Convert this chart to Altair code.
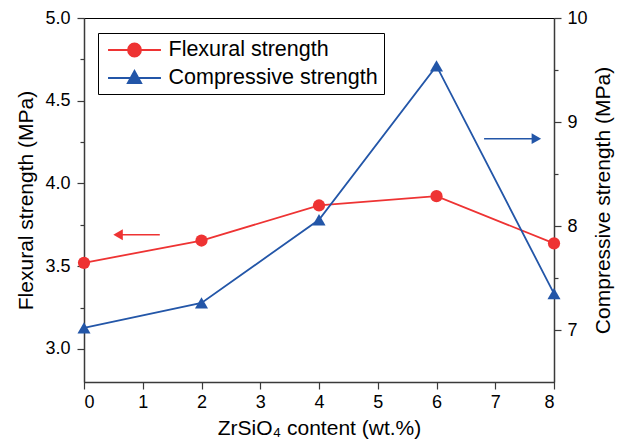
import altair as alt
import pandas as pd

# ---- data ----
zr_content = [0, 2, 4, 6, 8]
flexural = [3.52, 3.655, 3.867, 3.923, 3.638]
compressive = [7.02, 7.26, 8.06, 9.54, 7.35]
series_names = ["Flexural strength", "Compressive strength"]
series_colors = ["#EE3333", "#2356A8"]

# direction arrows (annotation, in data units)
red_arrow_x = [0.58, 1.29]
red_arrow_y = [3.69]
blue_arrow_x = [7.70, 6.81]
blue_arrow_y = [8.84]

x_ticks = [i * 0.5 for i in range(17)]
left_ticks = [3.0, 3.25, 3.5, 3.75, 4.0, 4.25, 4.5, 4.75, 5.0]
right_ticks = [7, 7.5, 8, 8.5, 9, 9.5, 10]

FONT = "Liberation Sans"
AX = "#3a3a3a"

df_f = pd.DataFrame({"x": zr_content, "y": flexural})
df_c = pd.DataFrame({"x": zr_content, "y": compressive})
df_ra = pd.DataFrame({"x": [red_arrow_x[0]], "x2": [red_arrow_x[1]], "y": red_arrow_y})
df_ba = pd.DataFrame({"x": [blue_arrow_x[0]], "x2": [blue_arrow_x[1]], "y": blue_arrow_y})
df_leg = pd.DataFrame({"series": series_names})

x_scale = alt.Scale(domain=[0, 8], nice=False, zero=False)
x_enc = alt.X(
    "x:Q",
    scale=x_scale,
    axis=alt.Axis(
        values=x_ticks,
        labelExpr="datum.value % 1 == 0 ? format(datum.value, 'd') : ''",
        tickSize=alt.ExprRef("datum.value % 1 != 0 ? 4 : 7"),
        labelPadding=4,
        titlePadding=6,
        labelOverlap=False,
    ),
    title="ZrSiO₄ content (wt.%)",
)

y_left_scale = alt.Scale(domain=[2.8, 5.0], nice=False, zero=False)
y_right_scale = alt.Scale(domain=[6.5, 10], nice=False, zero=False)

y_left = alt.Y(
    "y:Q",
    scale=y_left_scale,
    axis=alt.Axis(
        orient="left",
        values=left_ticks,
        labelExpr="(datum.value * 2) % 1 == 0 ? format(datum.value, '.1f') : ''",
        tickSize=alt.ExprRef("(datum.value * 2) % 1 != 0 ? 4 : 7"),
        labelPadding=7,
        titlePadding=8,
        labelOverlap=False,
    ),
    title="Flexural strength (MPa)",
)

y_right = alt.Y(
    "y:Q",
    scale=y_right_scale,
    axis=alt.Axis(
        orient="right",
        values=right_ticks,
        labelExpr="datum.value % 1 == 0 ? format(datum.value, 'd') : ''",
        tickSize=alt.ExprRef("datum.value % 1 != 0 ? 4 : 7"),
        labelPadding=6,
        titlePadding=5,
        titleAngle=270,
        titleBaseline="top",
        labelOverlap=False,
    ),
    title="Compressive strength (MPa)",
)

# flexural group
f_line = alt.Chart(df_f).mark_line(color=series_colors[0], strokeWidth=1.8).encode(x=x_enc, y=y_left)
f_pts = alt.Chart(df_f).mark_point(
    shape="circle", filled=True, color=series_colors[0], size=150, opacity=1
).encode(x=x_enc, y=y_left)
f_arrow_line = alt.Chart(df_ra).mark_rule(color=series_colors[0], strokeWidth=1.5).encode(
    x=alt.X("x:Q", scale=x_scale), x2="x2:Q", y=alt.Y("y:Q", scale=y_left_scale)
)
f_arrow_head = alt.Chart(df_ra).mark_point(
    shape="triangle-left", filled=True, color=series_colors[0], size=120, opacity=1
).encode(x=alt.X("x:Q", scale=x_scale), y=alt.Y("y:Q", scale=y_left_scale))

circle_path = "M-2.52,0L2.52,0M0.62,0A0.62,0.62,0,1,1,-0.62,0A0.62,0.62,0,1,1,0.62,0Z"
tri_path = "M-2.52,0L2.52,0M0,-0.68L0.64,0.48L-0.64,0.48Z"
leg = alt.Legend(
    title=None,
    orient="none",
    legendX=14,
    legendY=15,
    padding=5.5,
    symbolSize=441,
    symbolOffset=19.5,
    labelOffset=22.5,
    labelLimit=0,
    rowPadding=6,
    symbolStrokeWidth=1.8,
    symbolOpacity=1,
    labelFontSize=21.5,
    labelFont=FONT,
    labelColor="#000000",
    strokeColor="#000000",
    fillColor="#ffffff",
)
legend_layer = alt.Chart(df_leg).mark_point(filled=True, opacity=0).encode(
    fill=alt.Fill("series:N", scale=alt.Scale(domain=series_names, range=series_colors), legend=leg),
    stroke=alt.Stroke("series:N", scale=alt.Scale(domain=series_names, range=series_colors), legend=leg),
    shape=alt.Shape("series:N", scale=alt.Scale(domain=series_names, range=[circle_path, tri_path]), legend=leg),
)

left_group = alt.layer(f_line, f_pts, f_arrow_line, f_arrow_head, legend_layer)

# compressive group
c_line = alt.Chart(df_c).mark_line(color=series_colors[1], strokeWidth=1.8).encode(x=x_enc, y=y_right)
c_pts = alt.Chart(df_c).mark_point(
    shape="triangle-up", filled=True, color=series_colors[1], size=170, opacity=1
).encode(x=x_enc, y=y_right)
c_arrow_line = alt.Chart(df_ba).mark_rule(color=series_colors[1], strokeWidth=1.5).encode(
    x=alt.X("x:Q", scale=x_scale), x2="x2:Q", y=alt.Y("y:Q", scale=y_right_scale)
)
c_arrow_head = alt.Chart(df_ba).mark_point(
    shape="triangle-right", filled=True, color=series_colors[1], size=120, opacity=1
).encode(x=alt.X("x:Q", scale=x_scale), y=alt.Y("y:Q", scale=y_right_scale))

right_group = alt.layer(c_line, c_pts, c_arrow_line, c_arrow_head)

chart = (
    alt.layer(left_group, right_group)
    .resolve_scale(y="independent")
    .properties(
        width=470,
        height=364,
        padding={"left": 84, "top": 18, "right": 67, "bottom": 59},
        autosize=alt.AutoSizeParams(type="none"),
        background="#ffffff",
    )
    .configure_view(stroke="#000000", strokeWidth=1)
    .configure_axis(
        grid=False,
        labelFont=FONT,
        titleFont=FONT,
        labelFontSize=18,
        titleFontSize=21,
        titleFontWeight="normal",
        labelColor="#000000",
        titleColor="#000000",
        domainColor=AX,
        tickColor=AX,
        domainWidth=1.5,
        tickWidth=1.2,
    )
)

chart.save("out.html", embed_options={"renderer": "svg", "actions": False})
